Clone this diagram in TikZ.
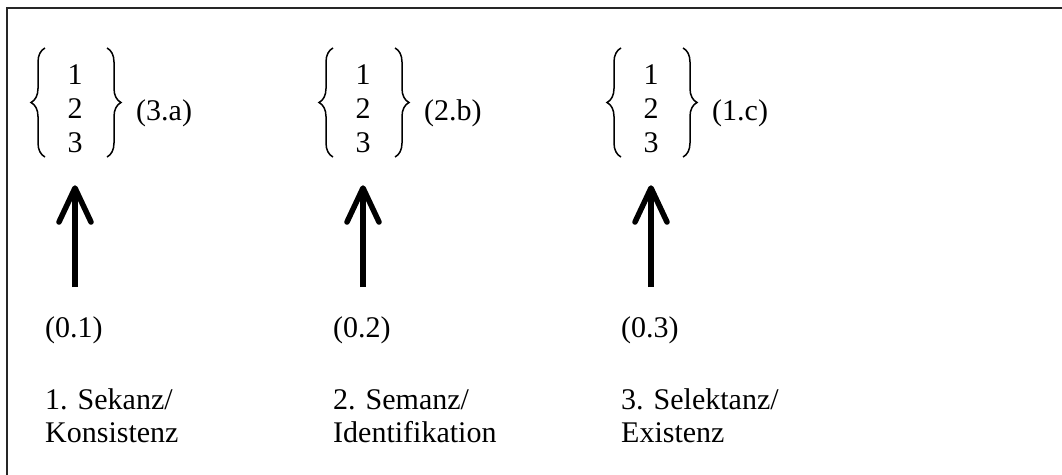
\documentclass[tikz,border=0pt]{standalone}
\usepackage{fontspec}
\setmainfont{Liberation Serif}
\usetikzlibrary{decorations.pathreplacing,calc}
\begin{document}
\begin{tikzpicture}[x=1pt,y=-1pt,
  txt/.style={inner sep=0pt,font=\fontsize{30}{34}\selectfont},
  digits/.style={txt,align=center},
  lab/.style={txt,anchor=base west},
  brc/.style={decorate,decoration={brace,amplitude=14pt},line width=1.5pt},
  shaft/.style={line width=5.5pt},
  head/.style={line width=5.5pt,line cap=round,line join=round}]
\useasboundingbox (0,0) rectangle (1062,474);
\draw[line width=2pt,black!85] (1080,8) -- (7,8) -- (7,490);
\foreach \i/\x/\lab/\num/\da/\db in {1/75/(3.a)/(0.1)/{1. Sekanz/}/Konsistenz,
                                  2/363/(2.b)/(0.2)/{2. Semanz/}/Identifikation,
                                  3/651/(1.c)/(0.3)/{3. Selektanz/}/Existenz}{
  \node[digits] (d\i) at (\x,109) {1\\2\\3};
  \coordinate (bl\i) at (\x-30,157);
  \coordinate (tl\i) at (\x-30,48);
  \coordinate (br\i) at (\x+32,48);
  \coordinate (bb\i) at (\x+32,157);
  \draw[brc] (bl\i) -- (tl\i);
  \draw[brc] (br\i) -- (bb\i);
  \node[lab] (l\i) at (\x+61,120) {\lab};
  \coordinate (s\i) at (\x,287);
  \coordinate (t\i) at (\x,191);
  \coordinate (hl\i) at (\x-16,222);
  \coordinate (hr\i) at (\x+16,222);
  \coordinate (tip\i) at (\x,188);
  \draw[shaft] (s\i) -- (t\i);
  \draw[head] (hl\i) -- (tip\i) -- (hr\i);
  \node[lab] (p\i) at (\x-30,337) {\num};
  \node[lab] (a\i) at (\x-30,409) {\da};
  \node[lab] (b\i) at (\x-30,442) {\db};
}
\end{tikzpicture}
\end{document}
